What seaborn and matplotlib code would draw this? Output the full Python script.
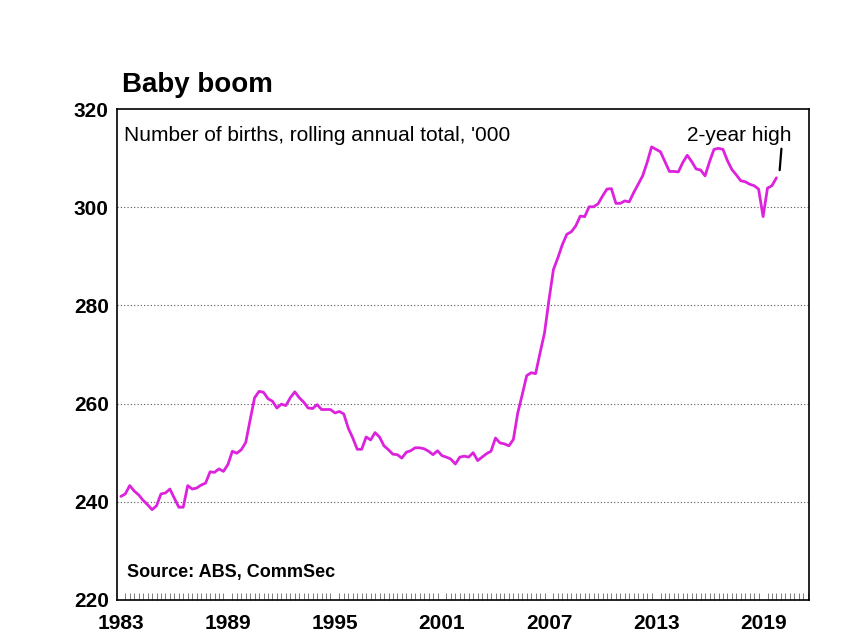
import pandas as pd
import matplotlib
matplotlib.use("Agg")
import matplotlib.pyplot as plt
import matplotlib.dates as mdates
import seaborn as sns

# Number of births, rolling annual total ('000), quarterly from Dec 1982
births = [
    241.1, 241.6, 243.3, 242.2, 241.4, 240.3, 239.4, 238.4, 239.2, 241.6,
    241.8, 242.6, 240.7, 238.9, 238.9, 243.3, 242.6, 242.8, 243.4, 243.8,
    246.1, 246.0, 246.7, 246.2, 247.6, 250.3, 249.9, 250.6, 252.1,
    256.7, 261.2, 262.5, 262.3, 261.0, 260.5, 259.1, 259.9, 259.6, 261.2,
    262.4, 261.2, 260.3, 259.1, 259.0, 259.8, 258.8, 258.8, 258.8, 258.1,
    258.4, 257.9, 255.0, 253.0, 250.7, 250.7, 253.2, 252.6,
    254.1, 253.2, 251.4, 250.6, 249.7, 249.6, 248.9, 250.1, 250.4, 251.0,
    251.0, 250.8, 250.3, 249.6, 250.4, 249.4, 249.1, 248.7, 247.7, 249.1,
    249.3, 249.1, 250.0, 248.4, 249.1, 249.8, 250.3, 253.0, 252.0, 251.8,
    251.4, 252.7,
    258.1, 261.8, 265.7, 266.3, 266.1, 270.3, 274.4, 281.2, 287.3, 289.7,
    292.4, 294.5, 295.0, 296.2, 298.2, 298.1, 300.1, 300.1, 300.7, 302.3,
    303.7, 303.8,
    300.8, 300.8, 301.3, 301.1, 303.0, 304.7, 306.4, 309.1, 312.3, 311.8,
    311.3, 309.3, 307.3, 307.3, 307.2, 309.1, 310.6, 309.3, 307.8, 307.6,
    306.4, 309.3, 311.8, 312.0, 311.8, 309.5, 307.7, 306.6, 305.4, 305.2,
    304.7, 304.4, 303.7, 298.1, 303.9, 304.4, 306.0,
]
dates = pd.date_range("1982-12-31", periods=len(births), freq="QE")
tick_years = [1983, 1989, 1995, 2001, 2007, 2013, 2019]
y_ticks = [220, 240, 260, 280, 300, 320]

df = pd.DataFrame({"date": dates, "births": births})

sns.set_style("white")
plt.rcParams["font.family"] = ["Liberation Sans", "DejaVu Sans"]
plt.rcParams["text.color"] = "black"
plt.rcParams["xtick.color"] = "black"
plt.rcParams["ytick.color"] = "black"

fig = plt.figure(figsize=(8.5, 6.38), dpi=100)
ax = fig.add_axes([0.1376, 0.0596, 0.8144, 0.7694])

sns.lineplot(data=df, x="date", y="births", ax=ax, color="#DD22DD", linewidth=2.0)

ax.set_ylim(220, 320)
ax.set_yticks(y_ticks)
ax.set_xlim(pd.Timestamp("1982-10-12"), pd.Timestamp("2021-08-01"))
ax.set_xticks([pd.Timestamp(f"{y}-01-01") for y in tick_years])
ax.xaxis.set_major_formatter(mdates.DateFormatter("%Y"))
ax.xaxis.set_minor_locator(mdates.MonthLocator(bymonth=[1, 4, 7, 10]))

for v in y_ticks[1:-1]:
    ax.axhline(v, color="#555555", linestyle=(0, (1, 2)), linewidth=0.8, zorder=0)

ax.tick_params(axis="both", which="major", labelsize=15, length=0, pad=6)
ax.tick_params(axis="x", which="minor", direction="in", length=5, width=0.6,
               color="#666666", bottom=True)
ax.tick_params(axis="x", which="major", pad=10)
for lab in ax.get_xticklabels() + ax.get_yticklabels():
    lab.set_fontweight("bold")

for s in ax.spines.values():
    s.set_visible(True)
    s.set_color("black")
    s.set_linewidth(1.2)

ax.set_xlabel("")
ax.set_ylabel("")

fig.text(0.1435, 0.866, "Baby boom", fontsize=20, fontweight="bold",
         ha="left", va="center")
ax.text(0.01, 0.965, "Number of births, rolling annual total, '000",
        transform=ax.transAxes, fontsize=15, ha="left", va="top")
ax.text(0.975, 0.965, "2-year high", transform=ax.transAxes,
        fontsize=15, ha="right", va="top")
ax.annotate("", xy=(pd.Timestamp("2019-12-01"), 307.0),
            xytext=(pd.Timestamp("2020-01-15"), 312.5),
            arrowprops=dict(arrowstyle="-", color="black", linewidth=1.6))
ax.text(0.015, 0.055, "Source: ABS, CommSec", transform=ax.transAxes,
        fontsize=13, fontweight="bold", ha="left", va="center")

fig.savefig("out.png", dpi=100)
plt.close(fig)
